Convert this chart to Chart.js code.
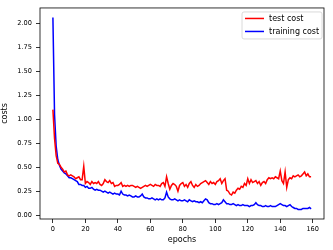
<!DOCTYPE html>
<html>
<head>
<meta charset="utf-8">
<script src="https://cdn.jsdelivr.net/npm/chart.js@4.4.0/dist/chart.umd.min.js"></script>
<style>
  html, body { margin: 0; padding: 0; background: #fff; }
  #wrap { width: 333px; height: 250px; }
</style>
</head>
<body>
<div id="wrap"><canvas id="costChart" width="333" height="250"></canvas></div>
<script>
// values
const trainingCost = [
  2.06, 1.05, 0.72, 0.58, 0.52, 0.48, 0.46, 0.44, 0.43, 0.41,
  0.39, 0.39, 0.38, 0.37, 0.36, 0.35, 0.32, 0.32, 0.31, 0.31,
  0.29, 0.30, 0.28, 0.28, 0.29, 0.27, 0.26, 0.27, 0.26, 0.26,
  0.25, 0.24, 0.25, 0.24, 0.23, 0.24, 0.23, 0.22, 0.23, 0.22,
  0.22, 0.21, 0.25, 0.22, 0.21, 0.21, 0.20, 0.21, 0.20, 0.19,
  0.19, 0.20, 0.19, 0.19, 0.20, 0.22, 0.19, 0.18, 0.18, 0.17,
  0.17, 0.18, 0.17, 0.16, 0.17, 0.16, 0.17, 0.16, 0.16, 0.18,
  0.24, 0.19, 0.17, 0.16, 0.16, 0.17, 0.16, 0.15, 0.16, 0.15,
  0.15, 0.16, 0.15, 0.14, 0.16, 0.15, 0.14, 0.15, 0.14, 0.14,
  0.13, 0.14, 0.13, 0.15, 0.17, 0.16, 0.13, 0.12, 0.12, 0.11,
  0.11, 0.12, 0.11, 0.12, 0.13, 0.16, 0.14, 0.12, 0.12, 0.11,
  0.11, 0.12, 0.11, 0.10, 0.11, 0.10, 0.10, 0.11, 0.10, 0.10,
  0.10, 0.09, 0.10, 0.10, 0.11, 0.13, 0.11, 0.10, 0.10, 0.09,
  0.09, 0.10, 0.09, 0.09, 0.10, 0.09, 0.09, 0.09, 0.10, 0.11,
  0.12, 0.11, 0.10, 0.10, 0.09, 0.10, 0.11, 0.09, 0.08, 0.07,
  0.07, 0.06, 0.06, 0.06, 0.07, 0.07, 0.07, 0.07, 0.08, 0.065
];
const testCost = [
  1.10, 0.80, 0.62, 0.54, 0.53, 0.50, 0.48, 0.45, 0.46, 0.42,
  0.41, 0.42, 0.41, 0.40, 0.38, 0.39, 0.40, 0.37, 0.37, 0.51,
  0.33, 0.35, 0.34, 0.32, 0.35, 0.33, 0.34, 0.33, 0.35, 0.32,
  0.31, 0.33, 0.37, 0.35, 0.34, 0.36, 0.33, 0.34, 0.30, 0.31,
  0.31, 0.32, 0.34, 0.30, 0.31, 0.30, 0.31, 0.30, 0.31, 0.31,
  0.30, 0.29, 0.30, 0.29, 0.28, 0.29, 0.30, 0.31, 0.30, 0.31,
  0.32, 0.31, 0.30, 0.32, 0.31, 0.31, 0.30, 0.33, 0.34, 0.30,
  0.40, 0.33, 0.27, 0.31, 0.33, 0.32, 0.30, 0.25, 0.31, 0.33,
  0.34, 0.30, 0.32, 0.29, 0.33, 0.35, 0.31, 0.29, 0.32, 0.30,
  0.31, 0.33, 0.34, 0.35, 0.36, 0.34, 0.32, 0.35, 0.33, 0.34,
  0.32, 0.35, 0.36, 0.38, 0.33, 0.36, 0.38, 0.26, 0.25, 0.22,
  0.21, 0.24, 0.23, 0.26, 0.28, 0.27, 0.30, 0.29, 0.33, 0.31,
  0.38, 0.33, 0.37, 0.34, 0.35, 0.36, 0.33, 0.35, 0.31, 0.34,
  0.35, 0.33, 0.37, 0.39, 0.38, 0.39, 0.38, 0.40, 0.39, 0.38,
  0.46, 0.36, 0.33, 0.45, 0.29, 0.37, 0.39, 0.38, 0.41, 0.40,
  0.41, 0.42, 0.40, 0.41, 0.43, 0.45, 0.41, 0.43, 0.40, 0.40
];
const epochs = testCost.map((v, i) => i);
const xTicks = [0, 20, 40, 60, 80, 100, 120, 140, 160];
const yTicks = [0.00, 0.25, 0.50, 0.75, 1.00, 1.25, 1.50, 1.75, 2.00];

const FONT = "'DejaVu Sans', sans-serif";

// black frame round the plot, like matplotlib spines
const framePlugin = {
  id: "frame",
  afterDatasetsDraw(chart) {
    const a = chart.chartArea;
    const ctx = chart.ctx;
    ctx.save();
    ctx.strokeStyle = "#000";
    ctx.lineWidth = 0.8;
    ctx.strokeRect(a.left, a.top, a.right - a.left, a.bottom - a.top);
    ctx.restore();
  },
};

// legend drawn inside the plot, upper right
const innerLegend = {
  id: "innerLegend",
  afterDraw(chart) {
    const a = chart.chartArea;
    const ctx = chart.ctx;
    const w = 80, h = 27;
    const x = a.right - 2 - w;
    const y = a.top + 4;
    ctx.save();
    ctx.fillStyle = "rgba(255,255,255,0.8)";
    ctx.strokeStyle = "#d0d0d0";
    ctx.lineWidth = 0.8;
    ctx.beginPath();
    ctx.roundRect(x, y, w, h, 2);
    ctx.fill();
    ctx.stroke();
    ctx.font = "8px " + FONT;
    ctx.textBaseline = "middle";
    chart.data.datasets.forEach((ds, i) => {
      const ly = y + 6.5 + i * 13;
      ctx.strokeStyle = ds.borderColor;
      ctx.lineWidth = 1.5;
      ctx.beginPath();
      ctx.moveTo(x + 3, ly);
      ctx.lineTo(x + 22, ly);
      ctx.stroke();
      ctx.fillStyle = "#000";
      ctx.fillText(ds.label, x + 27, ly + 0.5);
    });
    ctx.restore();
  },
};

const ctx = document.getElementById("costChart").getContext("2d");
new Chart(ctx, {
  type: "line",
  data: {
    labels: epochs,
    datasets: [
      {
        label: "test cost",
        data: testCost,
        borderColor: "#ff0000",
        borderWidth: 1.5,
        pointRadius: 0,
        fill: false,
      },
      {
        label: "training cost",
        data: trainingCost,
        borderColor: "#0000ff",
        borderWidth: 1.5,
        pointRadius: 0,
        fill: false,
      },
    ],
  },
  options: {
    responsive: false,
    animation: false,
    layout: { padding: { top: 5, right: 9, left: 0, bottom: 0 } },
    plugins: {
      legend: { display: false },
      tooltip: { enabled: false },
    },
    scales: {
      x: {
        type: "linear",
        min: -7.95,
        max: 166.95,
        afterBuildTicks: (s) => { s.ticks = xTicks.map((v) => ({ value: v })); },
        afterFit: (s) => { s.height = 31; },
        border: { display: false },
        grid: { drawOnChartArea: false, drawTicks: true, tickLength: 4, color: "#000", lineWidth: 0.8 },
        ticks: { color: "#000", padding: 2, maxRotation: 0, font: { family: FONT, size: 6.6 } },
        title: { display: true, text: "epochs", color: "#000", padding: { top: 0, bottom: 5 }, font: { family: FONT, size: 8 } },
      },
      y: {
        min: -0.04,
        max: 2.16,
        afterBuildTicks: (s) => { s.ticks = yTicks.map((v) => ({ value: v })); },
        afterFit: (s) => { s.width = 40; },
        border: { display: false },
        grid: { drawOnChartArea: false, drawTicks: true, tickLength: 4, color: "#000", lineWidth: 0.8 },
        ticks: { color: "#000", padding: 4, font: { family: FONT, size: 6.6 }, callback: (v) => v.toFixed(2) },
        title: { display: true, text: "costs", color: "#000", padding: { top: 0, bottom: 0 }, font: { family: FONT, size: 8 } },
      },
    },
  },
  plugins: [framePlugin, innerLegend],
});
</script>
</body>
</html>
